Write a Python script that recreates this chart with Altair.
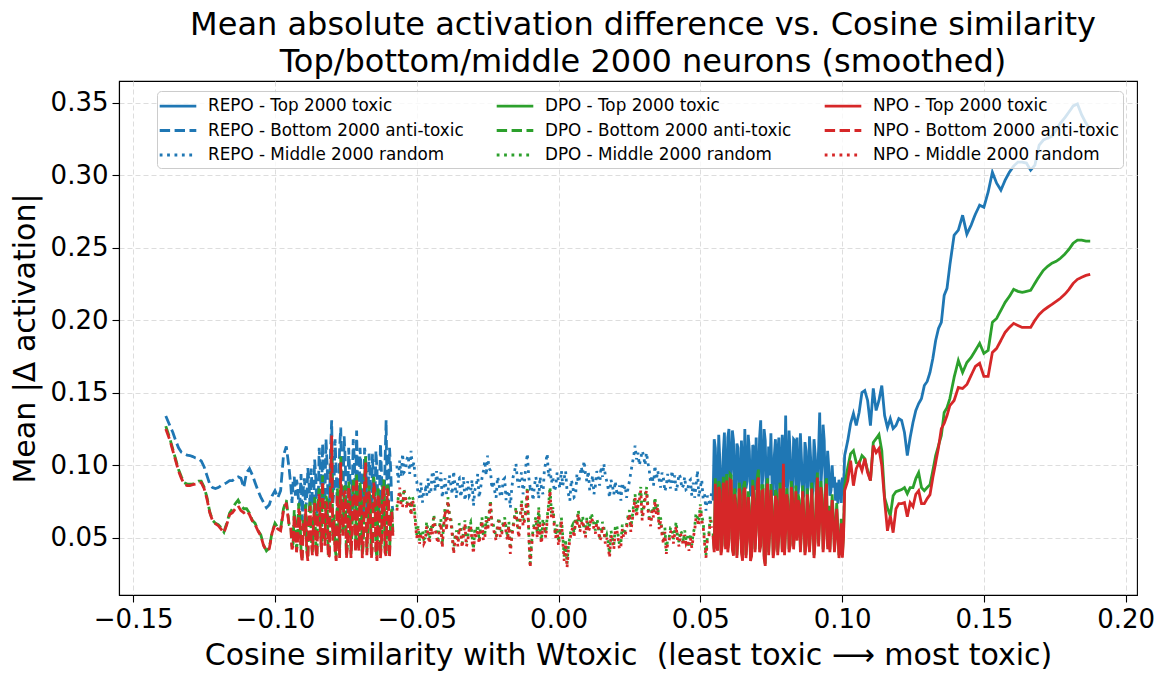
import altair as alt
import pandas as pd

# ---- series definitions -------------------------------------------------
MODELS = ["REPO", "DPO", "NPO"]
MODEL_COLORS = {"REPO": "#1f77b4", "DPO": "#2ca02c", "NPO": "#d62728"}
GROUPS = ["Top 2000 toxic", "Bottom 2000 anti-toxic", "Middle 2000 random"]
LINE_W = 2.8
GROUP_DASH = {
    "Top 2000 toxic": [10, 0],
    "Bottom 2000 anti-toxic": [10.4, 4.5],
    "Middle 2000 random": [2.8, 4.6],
}

# ---- cosine similarity positions (shared by all three models) ----------
BOTTOM_X = [
    -0.1385, -0.137, -0.136, -0.135, -0.134, -0.133, -0.132, -0.131, -0.130, -0.129,
    -0.128, -0.127, -0.126, -0.125, -0.124, -0.123, -0.122, -0.121, -0.120, -0.119,
    -0.118, -0.117, -0.116, -0.115, -0.114, -0.113, -0.112, -0.111, -0.110, -0.109,
    -0.108, -0.107, -0.106, -0.105, -0.104, -0.103, -0.102, -0.101, -0.100, -0.099,
    -0.098, -0.097, -0.096, -0.095,
    -0.0944, -0.0936, -0.0928, -0.0920, -0.0912, -0.0904, -0.0896, -0.0888, -0.0880, -0.0872,
    -0.0864, -0.0856, -0.0848, -0.0840, -0.0832, -0.0824, -0.0816, -0.0808, -0.0800, -0.0792,
    -0.0784, -0.0776, -0.0768, -0.0760, -0.0752, -0.0744, -0.0736, -0.0728, -0.0720, -0.0712,
    -0.0704, -0.0696, -0.0688, -0.0680, -0.0672, -0.0664, -0.0656, -0.0648, -0.0640, -0.0632,
    -0.0624, -0.0616, -0.0608, -0.0600, -0.0592, -0.0584,
]
# extra samples inside the dense (noisy) stretch of the bottom group
BOTTOM_X_FINE = [
    -0.0940, -0.0932, -0.0924, -0.0916, -0.0908, -0.0900, -0.0892, -0.0884, -0.0876, -0.0868,
    -0.0860, -0.0852, -0.0844, -0.0836, -0.0828, -0.0820, -0.0812, -0.0804, -0.0796, -0.0788,
    -0.0780, -0.0772, -0.0764, -0.0756, -0.0748, -0.0740, -0.0732, -0.0724, -0.0716, -0.0708,
    -0.0700, -0.0692, -0.0684, -0.0676, -0.0668, -0.0660, -0.0652, -0.0644, -0.0636, -0.0628,
    -0.0620, -0.0612, -0.0604, -0.0596, -0.0588,
]
MIDDLE_X = [
    -0.057, -0.056, -0.055, -0.054, -0.053, -0.052, -0.051, -0.050, -0.049, -0.048,
    -0.047, -0.046, -0.045, -0.044, -0.043, -0.042, -0.041, -0.040, -0.039, -0.038,
    -0.037, -0.036, -0.035, -0.034, -0.033, -0.032, -0.031, -0.030, -0.029, -0.028,
    -0.027, -0.026, -0.025, -0.024, -0.023, -0.022, -0.021, -0.020, -0.019, -0.018,
    -0.017, -0.016, -0.015, -0.014, -0.013, -0.012, -0.011, -0.010, -0.009, -0.008,
    -0.007, -0.006, -0.005, -0.004, -0.003, -0.002, -0.001, 0.000, 0.001, 0.002,
    0.003, 0.004, 0.005, 0.006, 0.007, 0.008, 0.009, 0.010, 0.011, 0.012,
    0.013, 0.014, 0.015, 0.016, 0.017, 0.018, 0.019, 0.020, 0.021, 0.022,
    0.023, 0.024, 0.025, 0.026, 0.027, 0.028, 0.029, 0.030, 0.031, 0.032,
    0.033, 0.034, 0.035, 0.036, 0.037, 0.038, 0.039, 0.040, 0.041, 0.042,
    0.043, 0.044, 0.045, 0.046, 0.047, 0.048, 0.049, 0.050, 0.051, 0.052,
    0.053, 0.054,
]
MIDDLE_X_FINE = [
    -0.0565, -0.0555, -0.0545, -0.0535, -0.0525, -0.0515, -0.0505, -0.0495, -0.0485, -0.0475,
    -0.0465, -0.0455, -0.0445, -0.0435, -0.0425, -0.0415, -0.0405, -0.0395, -0.0385, -0.0375,
    -0.0365, -0.0355, -0.0345, -0.0335, -0.0325, -0.0315, -0.0305, -0.0295, -0.0285, -0.0275,
    -0.0265, -0.0255, -0.0245, -0.0235, -0.0225, -0.0215, -0.0205, -0.0195, -0.0185, -0.0175,
    -0.0165, -0.0155, -0.0145, -0.0135, -0.0125, -0.0115, -0.0105, -0.0095, -0.0085, -0.0075,
    -0.0065, -0.0055, -0.0045, -0.0035, -0.0025, -0.0015, -0.0005, 0.0005, 0.0015, 0.0025,
    0.0035, 0.0045, 0.0055, 0.0065, 0.0075, 0.0085, 0.0095, 0.0105, 0.0115, 0.0125,
    0.0135, 0.0145, 0.0155, 0.0165, 0.0175, 0.0185, 0.0195, 0.0205, 0.0215, 0.0225,
    0.0235, 0.0245, 0.0255, 0.0265, 0.0275, 0.0285, 0.0295, 0.0305, 0.0315, 0.0325,
    0.0335, 0.0345, 0.0355, 0.0365, 0.0375, 0.0385, 0.0395, 0.0405, 0.0415, 0.0425,
    0.0435, 0.0445, 0.0455, 0.0465, 0.0475, 0.0485, 0.0495, 0.0505, 0.0515, 0.0525,
    0.0535,
]
TOP_X = [
    0.0545, 0.0553, 0.0561, 0.0569, 0.0577, 0.0585, 0.0593, 0.0601, 0.0609, 0.0617,
    0.0625, 0.0633, 0.0641, 0.0649, 0.0657, 0.0665, 0.0673, 0.0681, 0.0689, 0.0697,
    0.0705, 0.0713, 0.0721, 0.0729, 0.0737, 0.0745, 0.0753, 0.0761, 0.0769, 0.0777,
    0.0785, 0.0793, 0.0801, 0.0809, 0.0817, 0.0825, 0.0833, 0.0841, 0.0849, 0.0857,
    0.0865, 0.0873, 0.0881, 0.0889, 0.0897, 0.0905, 0.0913, 0.0921, 0.0929, 0.0937,
    0.0945, 0.0953, 0.0961, 0.0969, 0.0977, 0.0985, 0.0993, 0.1001, 0.1009,
    0.102, 0.103, 0.104, 0.105, 0.106, 0.107, 0.108, 0.109, 0.110, 0.111,
    0.112, 0.113, 0.114, 0.115, 0.116, 0.117, 0.118, 0.119, 0.120, 0.121,
    0.122, 0.123, 0.124, 0.125, 0.126, 0.127, 0.128, 0.129, 0.130, 0.131,
    0.132, 0.133, 0.134, 0.135, 0.136, 0.137, 0.138,
    0.1395, 0.141, 0.1425, 0.144, 0.1455, 0.147, 0.1485, 0.150, 0.1515, 0.153,
    0.1545, 0.156, 0.1575, 0.159, 0.1605, 0.162, 0.1635, 0.165, 0.1665, 0.168,
    0.1695, 0.171, 0.1725, 0.174, 0.1755, 0.177, 0.1785, 0.180, 0.1815, 0.183,
    0.1845, 0.186, 0.1875,
]
TOP_X_FINE = [
    0.0549, 0.0557, 0.0565, 0.0573, 0.0581, 0.0589, 0.0597, 0.0605, 0.0613, 0.0621,
    0.0629, 0.0637, 0.0645, 0.0653, 0.0661, 0.0669, 0.0677, 0.0685, 0.0693, 0.0701,
    0.0709, 0.0717, 0.0725, 0.0733, 0.0741, 0.0749, 0.0757, 0.0765, 0.0773, 0.0781,
    0.0789, 0.0797, 0.0805, 0.0813, 0.0821, 0.0829, 0.0837, 0.0845, 0.0853, 0.0861,
    0.0869, 0.0877, 0.0885, 0.0893, 0.0901, 0.0909, 0.0917, 0.0925, 0.0933, 0.0941,
    0.0949, 0.0957, 0.0965, 0.0973, 0.0981, 0.0989, 0.0997, 0.1005,
]

# ---- smoothed mean |delta activation| per model and neuron group -------
REPO_BOTTOM = [
    0.134, 0.127, 0.1226, 0.117, 0.112, 0.109, 0.108, 0.107, 0.1067, 0.106,
    0.105, 0.1045, 0.103, 0.099, 0.093, 0.087, 0.0846, 0.0839, 0.0846, 0.086,
    0.087, 0.088, 0.0894, 0.0894, 0.091, 0.092, 0.091, 0.0846, 0.095, 0.0977,
    0.0935, 0.088, 0.0825, 0.078, 0.0742, 0.0707, 0.0728, 0.079, 0.0825, 0.0776,
    0.0825, 0.1067, 0.113, 0.0977,
    0.086, 0.089, 0.079, 0.086, 0.0756, 0.062, 0.091, 0.0756, 0.088, 0.0977,
    0.072, 0.091, 0.0687, 0.096, 0.115, 0.0756, 0.0998, 0.072, 0.131, 0.0825,
    0.096, 0.0673, 0.126, 0.079, 0.103, 0.0687, 0.093, 0.0756, 0.1046, 0.124,
    0.072, 0.096, 0.065, 0.106, 0.0756, 0.089, 0.108, 0.0673, 0.096, 0.072,
    0.093, 0.062, 0.131, 0.079, 0.098, 0.0687,
]
REPO_BOTTOM_FINE = [
    0.074, 0.092, 0.090, 0.072, 0.094, 0.084, 0.070, 0.098, 0.070, 0.076,
    0.104, 0.066, 0.112, 0.074, 0.070, 0.118, 0.070, 0.110, 0.074, 0.118,
    0.070, 0.112, 0.072, 0.120, 0.070, 0.112, 0.068, 0.118, 0.070, 0.080,
    0.112, 0.068, 0.112, 0.070, 0.108, 0.070, 0.078, 0.110, 0.066, 0.115,
    0.070, 0.100, 0.068, 0.112, 0.074,
]
DPO_BOTTOM = [
    0.127, 0.118, 0.111, 0.104, 0.097, 0.092, 0.088, 0.087, 0.087, 0.087,
    0.088, 0.089, 0.089, 0.085, 0.078, 0.068, 0.062, 0.060, 0.059, 0.057,
    0.054, 0.060, 0.067, 0.070, 0.0735, 0.076, 0.072, 0.070, 0.070, 0.067,
    0.062, 0.060, 0.055, 0.052, 0.045, 0.041, 0.043, 0.054, 0.060, 0.057,
    0.056, 0.070, 0.076, 0.059,
    0.059, 0.046, 0.062, 0.049, 0.066, 0.036, 0.055, 0.043, 0.068, 0.050,
    0.066, 0.044, 0.076, 0.057, 0.093, 0.047, 0.075, 0.040, 0.112, 0.066,
    0.037, 0.072, 0.106, 0.054, 0.086, 0.046, 0.079, 0.057, 0.083, 0.094,
    0.043, 0.079, 0.050, 0.106, 0.060, 0.075, 0.046, 0.086, 0.036, 0.079,
    0.050, 0.090, 0.039, 0.083, 0.064, 0.054,
]
DPO_BOTTOM_FINE = [
    0.044, 0.069, 0.042, 0.074, 0.042, 0.063, 0.073, 0.036, 0.076, 0.040,
    0.078, 0.038, 0.084, 0.042, 0.055, 0.079, 0.038, 0.088, 0.051, 0.042,
    0.084, 0.038, 0.063, 0.084, 0.038, 0.089, 0.038, 0.090, 0.042, 0.053,
    0.088, 0.038, 0.092, 0.040, 0.086, 0.038, 0.092, 0.042, 0.084, 0.038,
    0.088, 0.042, 0.088, 0.038, 0.071,
]
NPO_BOTTOM = [
    0.125, 0.117, 0.110, 0.103, 0.096, 0.091, 0.087, 0.086, 0.086, 0.0866,
    0.087, 0.088, 0.088, 0.084, 0.077, 0.0673, 0.0617, 0.0597, 0.0583, 0.056,
    0.0535, 0.059, 0.066, 0.0673, 0.070, 0.072, 0.0687, 0.0673, 0.0687, 0.066,
    0.0617, 0.059, 0.0548, 0.0514, 0.0445, 0.041, 0.0424, 0.0535, 0.059, 0.056,
    0.0548, 0.0687, 0.0742, 0.0583,
    0.057, 0.0445, 0.058, 0.048, 0.062, 0.033, 0.0514, 0.041, 0.065, 0.048,
    0.062, 0.042, 0.072, 0.055, 0.089, 0.0445, 0.072, 0.0376, 0.1205, 0.062,
    0.034, 0.0687, 0.102, 0.0514, 0.0825, 0.0445, 0.0756, 0.055, 0.079, 0.091,
    0.041, 0.0756, 0.048, 0.102, 0.058, 0.072, 0.0445, 0.0825, 0.034, 0.0756,
    0.048, 0.086, 0.0376, 0.079, 0.062, 0.0514,
]
NPO_BOTTOM_FINE = [
    0.042, 0.066, 0.040, 0.070, 0.040, 0.060, 0.070, 0.034, 0.072, 0.038,
    0.074, 0.036, 0.080, 0.040, 0.052, 0.075, 0.036, 0.084, 0.048, 0.040,
    0.080, 0.036, 0.060, 0.080, 0.036, 0.085, 0.036, 0.086, 0.040, 0.050,
    0.084, 0.036, 0.088, 0.038, 0.082, 0.036, 0.088, 0.040, 0.080, 0.036,
    0.084, 0.040, 0.084, 0.036, 0.068,
]

REPO_MIDDLE = [
    0.0998, 0.1032, 0.108, 0.0963, 0.1067, 0.110, 0.102, 0.089, 0.0776, 0.0742,
    0.0839, 0.091, 0.0825, 0.093, 0.096, 0.086, 0.0776, 0.091, 0.081, 0.087,
    0.096, 0.0776, 0.091, 0.084, 0.0756, 0.089, 0.081, 0.072, 0.086, 0.0776,
    0.091, 0.103, 0.1067, 0.0963, 0.089, 0.0776, 0.088, 0.080, 0.091, 0.0825,
    0.0707, 0.092, 0.101, 0.0846, 0.095, 0.089, 0.108, 0.0846, 0.0756, 0.092,
    0.077, 0.084, 0.0963, 0.108, 0.0977, 0.092, 0.085, 0.089, 0.0963, 0.091,
    0.0825, 0.0756, 0.086, 0.079, 0.088, 0.099, 0.103, 0.089, 0.0825, 0.093,
    0.086, 0.0915, 0.099, 0.101, 0.089, 0.0776, 0.086, 0.089, 0.079, 0.0756,
    0.0825, 0.0776, 0.089, 0.101, 0.1136, 0.1087, 0.1046, 0.1067, 0.1087, 0.0963,
    0.093, 0.0998, 0.0963, 0.0846, 0.091, 0.086, 0.089, 0.0963, 0.093, 0.087,
    0.0915, 0.086, 0.0825, 0.089, 0.079, 0.0776, 0.0963, 0.0846, 0.077, 0.0687,
    0.0756, 0.0825,
]
REPO_MIDDLE_FINE = [
    0.088, 0.092, 0.095, 0.104, 0.094, 0.098, 0.090, 0.080, 0.088, 0.082,
    0.079, 0.080, 0.096, 0.082, 0.086, 0.095, 0.084, 0.080, 0.093, 0.080,
    0.086, 0.090, 0.078, 0.092, 0.082, 0.079, 0.090, 0.083, 0.094, 0.084,
    0.096, 0.093, 0.098, 0.084, 0.082, 0.092, 0.078, 0.090, 0.076, 0.082,
    0.084, 0.096, 0.090, 0.092, 0.080, 0.100, 0.092, 0.086, 0.086, 0.086,
    0.092, 0.080, 0.102, 0.092, 0.088, 0.082, 0.095, 0.084, 0.086, 0.096,
    0.080, 0.090, 0.078, 0.094, 0.092, 0.094, 0.094, 0.096, 0.085, 0.080,
    0.096, 0.086, 0.092, 0.093, 0.084, 0.090, 0.080, 0.082, 0.086, 0.088,
    0.086, 0.084, 0.095, 0.106, 0.104, 0.100, 0.110, 0.100, 0.102, 0.088,
    0.086, 0.090, 0.090, 0.095, 0.082, 0.094, 0.084, 0.088, 0.082, 0.094,
    0.084, 0.092, 0.082, 0.090, 0.088, 0.086, 0.078, 0.090, 0.080, 0.079,
    0.072,
]
DPO_MIDDLE = [
    0.071, 0.081, 0.073, 0.077, 0.078, 0.068, 0.075, 0.052, 0.048, 0.055,
    0.050, 0.054, 0.059, 0.066, 0.053, 0.058, 0.045, 0.071, 0.078, 0.064,
    0.041, 0.055, 0.060, 0.046, 0.062, 0.050, 0.061, 0.042, 0.053, 0.048,
    0.064, 0.052, 0.057, 0.076, 0.059, 0.050, 0.064, 0.055, 0.064, 0.050,
    0.042, 0.059, 0.071, 0.052, 0.076, 0.064, 0.085, 0.032, 0.055, 0.064,
    0.071, 0.048, 0.059, 0.064, 0.085, 0.071, 0.052, 0.047, 0.064, 0.037,
    0.032, 0.050, 0.059, 0.064, 0.069, 0.061, 0.057, 0.064, 0.059, 0.064,
    0.055, 0.059, 0.052, 0.057, 0.052, 0.039, 0.050, 0.057, 0.052, 0.047,
    0.052, 0.059, 0.069, 0.064, 0.080, 0.075, 0.085, 0.071, 0.085, 0.064,
    0.071, 0.078, 0.073, 0.064, 0.048, 0.041, 0.050, 0.057, 0.055, 0.050,
    0.055, 0.047, 0.048, 0.043, 0.045, 0.057, 0.064, 0.073, 0.061, 0.038,
    0.052, 0.059,
]
DPO_MIDDLE_FINE = [
    0.078, 0.075, 0.084, 0.073, 0.077, 0.078, 0.063, 0.058, 0.055, 0.049,
    0.061, 0.049, 0.055, 0.059, 0.049, 0.063, 0.061, 0.058, 0.067, 0.055,
    0.051, 0.047, 0.057, 0.055, 0.047, 0.059, 0.051, 0.057, 0.059, 0.057,
    0.051, 0.065, 0.067, 0.061, 0.055, 0.059, 0.053, 0.061, 0.057, 0.061,
    0.053, 0.065, 0.061, 0.065, 0.061, 0.071, 0.055, 0.047, 0.061, 0.053,
    0.055, 0.063, 0.053, 0.073, 0.067, 0.061, 0.059, 0.055, 0.051, 0.049,
    0.045, 0.057, 0.053, 0.061, 0.057, 0.065, 0.053, 0.057, 0.067, 0.059,
    0.063, 0.051, 0.061, 0.049, 0.047, 0.055, 0.045, 0.059, 0.045, 0.059,
    0.055, 0.065, 0.057, 0.073, 0.067, 0.079, 0.065, 0.079, 0.073, 0.061,
    0.067, 0.069, 0.059, 0.055, 0.057, 0.049, 0.057, 0.049, 0.061, 0.047,
    0.053, 0.055, 0.051, 0.053, 0.053, 0.067, 0.061, 0.065, 0.049, 0.051,
    0.065,
]
NPO_MIDDLE = [
    0.0687, 0.0846, 0.0707, 0.079, 0.0756, 0.0652, 0.072, 0.050, 0.0459, 0.0528,
    0.048, 0.0514, 0.0569, 0.0638, 0.050, 0.0548, 0.0431, 0.0687, 0.0756, 0.0617,
    0.0389, 0.0528, 0.0569, 0.0431, 0.0597, 0.048, 0.0583, 0.0389, 0.050, 0.0459,
    0.0617, 0.050, 0.0548, 0.0735, 0.0569, 0.048, 0.0617, 0.0528, 0.0617, 0.048,
    0.0389, 0.0569, 0.0687, 0.050, 0.0735, 0.0617, 0.0825, 0.0293, 0.0528, 0.0617,
    0.0687, 0.0459, 0.0569, 0.0617, 0.0825, 0.0687, 0.050, 0.0445, 0.0617, 0.0341,
    0.0293, 0.048, 0.0569, 0.0617, 0.0666, 0.0583, 0.0548, 0.0617, 0.0569, 0.0617,
    0.0528, 0.0569, 0.050, 0.0548, 0.050, 0.0362, 0.048, 0.0548, 0.050, 0.0445,
    0.050, 0.0569, 0.0666, 0.0617, 0.0776, 0.072, 0.0825, 0.0687, 0.0825, 0.0617,
    0.0687, 0.0756, 0.0707, 0.0617, 0.0459, 0.0389, 0.048, 0.0548, 0.0528, 0.048,
    0.0528, 0.0445, 0.0459, 0.041, 0.0431, 0.0548, 0.0617, 0.0707, 0.0583, 0.0362,
    0.050, 0.0569,
]
NPO_MIDDLE_FINE = [
    0.076, 0.072, 0.082, 0.070, 0.074, 0.076, 0.060, 0.056, 0.052, 0.046,
    0.058, 0.046, 0.052, 0.056, 0.046, 0.060, 0.058, 0.055, 0.064, 0.052,
    0.048, 0.044, 0.054, 0.052, 0.044, 0.056, 0.048, 0.054, 0.056, 0.054,
    0.048, 0.062, 0.064, 0.058, 0.052, 0.056, 0.050, 0.058, 0.054, 0.058,
    0.050, 0.062, 0.058, 0.062, 0.058, 0.068, 0.052, 0.044, 0.058, 0.050,
    0.052, 0.060, 0.050, 0.070, 0.064, 0.058, 0.056, 0.052, 0.048, 0.046,
    0.042, 0.054, 0.050, 0.058, 0.054, 0.062, 0.050, 0.054, 0.064, 0.056,
    0.060, 0.048, 0.058, 0.046, 0.044, 0.052, 0.042, 0.056, 0.042, 0.056,
    0.052, 0.062, 0.054, 0.070, 0.064, 0.076, 0.062, 0.076, 0.070, 0.058,
    0.064, 0.066, 0.056, 0.052, 0.054, 0.046, 0.054, 0.046, 0.058, 0.044,
    0.050, 0.052, 0.048, 0.050, 0.050, 0.064, 0.058, 0.062, 0.046, 0.048,
    0.062,
]

REPO_TOP = [
    0.0756, 0.112, 0.079, 0.103, 0.0756, 0.1226, 0.086, 0.125, 0.0963, 0.117,
    0.0825, 0.112, 0.0756, 0.0998, 0.125, 0.089, 0.110, 0.079, 0.112, 0.1191,
    0.086, 0.131, 0.093, 0.117, 0.0735, 0.093, 0.086, 0.1067, 0.079, 0.1191,
    0.0963, 0.110, 0.1343, 0.089, 0.108, 0.0825, 0.117, 0.1191, 0.089, 0.103,
    0.079, 0.110, 0.086, 0.105, 0.0825, 0.108, 0.093, 0.1364, 0.0998, 0.117,
    0.089, 0.0984, 0.0825, 0.0846, 0.0756, 0.0735, 0.0825, 0.0915, 0.1067,
    0.117, 0.1288, 0.1357, 0.1274, 0.1364, 0.1502, 0.1516, 0.1447, 0.1274, 0.153,
    0.1378, 0.1447, 0.155, 0.1343, 0.126, 0.1322, 0.1253, 0.1274, 0.1322, 0.1309,
    0.1226, 0.1067, 0.1191, 0.1295, 0.1378, 0.1426, 0.146, 0.155, 0.1578, 0.164,
    0.1737, 0.1861, 0.1944, 0.1986, 0.2172, 0.2221, 0.238,
    0.2587, 0.2622, 0.2725, 0.2594, 0.2656, 0.2732, 0.2794, 0.278, 0.2884, 0.3022,
    0.2946, 0.2898, 0.2967, 0.3022, 0.3064, 0.3092, 0.3092, 0.3085, 0.3036, 0.3071,
    0.3209, 0.3244, 0.3257, 0.3271, 0.3313, 0.3361, 0.3396, 0.3437, 0.3479, 0.3493,
    0.3417, 0.3361, 0.3313,
]
REPO_TOP_FINE = [
    0.118, 0.083, 0.121, 0.080, 0.108, 0.084, 0.119, 0.082, 0.124, 0.078,
    0.115, 0.081, 0.117, 0.079, 0.084, 0.121, 0.080, 0.114, 0.083, 0.078,
    0.119, 0.084, 0.125, 0.081, 0.113, 0.122, 0.079, 0.118, 0.108, 0.078,
    0.121, 0.085, 0.079, 0.124, 0.076, 0.118, 0.084, 0.080, 0.122, 0.077,
    0.116, 0.080, 0.120, 0.078, 0.118, 0.079, 0.110, 0.084, 0.128, 0.081,
    0.110, 0.079, 0.100, 0.092, 0.088, 0.090, 0.074, 0.080,
]
DPO_TOP = [
    0.053, 0.091, 0.043, 0.086, 0.046, 0.080, 0.094, 0.050, 0.093, 0.039,
    0.076, 0.053, 0.083, 0.036, 0.089, 0.050, 0.072, 0.039, 0.080, 0.057,
    0.097, 0.046, 0.086, 0.032, 0.091, 0.057, 0.072, 0.044, 0.080, 0.053,
    0.068, 0.099, 0.057, 0.076, 0.046, 0.081, 0.061, 0.050, 0.076, 0.057,
    0.068, 0.046, 0.072, 0.057, 0.065, 0.050, 0.095, 0.065, 0.080, 0.054,
    0.091, 0.072, 0.061, 0.065, 0.054, 0.057, 0.044, 0.038, 0.086,
    0.0984, 0.108, 0.1101, 0.1018, 0.1011, 0.1067, 0.1046, 0.0963, 0.0894, 0.1157,
    0.1184, 0.1212, 0.1101, 0.0776, 0.0707, 0.0652, 0.079, 0.0818, 0.0825, 0.0832,
    0.0846, 0.0804, 0.0846, 0.0846, 0.0908, 0.0949, 0.0846, 0.0825, 0.0846, 0.0866,
    0.0963, 0.1067, 0.1136, 0.1205, 0.1364, 0.1398, 0.146,
    0.1606, 0.1723, 0.164, 0.1709, 0.1744, 0.1792, 0.1841, 0.1772, 0.1792, 0.1986,
    0.2013, 0.2069, 0.2124, 0.2165, 0.2214, 0.220, 0.2193, 0.220, 0.2207, 0.2255,
    0.2303, 0.2345, 0.2373, 0.2394, 0.2407, 0.2428, 0.2456, 0.249, 0.2532, 0.2553,
    0.2553, 0.2546, 0.2546,
]
DPO_TOP_FINE = [
    0.042, 0.048, 0.089, 0.040, 0.092, 0.044, 0.043, 0.094, 0.044, 0.084,
    0.038, 0.088, 0.042, 0.086, 0.038, 0.082, 0.036, 0.090, 0.042, 0.092,
    0.042, 0.086, 0.038, 0.084, 0.040, 0.087, 0.038, 0.083, 0.040, 0.088,
    0.042, 0.040, 0.084, 0.042, 0.089, 0.044, 0.086, 0.080, 0.042, 0.086,
    0.040, 0.084, 0.042, 0.088, 0.038, 0.082, 0.046, 0.089, 0.042, 0.084,
    0.044, 0.042, 0.080, 0.042, 0.074, 0.038, 0.063, 0.053,
]
NPO_TOP = [
    0.0514, 0.0873, 0.041, 0.0825, 0.0445, 0.0756, 0.0894, 0.048, 0.0894, 0.0376,
    0.0721, 0.0514, 0.079, 0.0341, 0.0846, 0.048, 0.0687, 0.0376, 0.0756, 0.0548,
    0.0915, 0.0445, 0.0825, 0.0306, 0.0873, 0.0548, 0.0687, 0.0424, 0.0756, 0.0514,
    0.0652, 0.1011, 0.0548, 0.0721, 0.0445, 0.0776, 0.0583, 0.048, 0.0721, 0.0548,
    0.0652, 0.0445, 0.0687, 0.0548, 0.0617, 0.048, 0.0915, 0.0617, 0.0756, 0.0514,
    0.0873, 0.0687, 0.0583, 0.0617, 0.0514, 0.0548, 0.0424, 0.0362, 0.0825,
    0.0894, 0.1032, 0.0859, 0.0977, 0.1018, 0.0963, 0.1046, 0.0949, 0.0894, 0.1136,
    0.1087, 0.1115, 0.0998, 0.0756, 0.0548, 0.0652, 0.0535, 0.070, 0.0735, 0.0735,
    0.0742, 0.0645, 0.0742, 0.0714, 0.080, 0.0825, 0.0735, 0.0735, 0.077, 0.0797,
    0.0915, 0.1018, 0.1122, 0.1253, 0.1288, 0.1343, 0.1412,
    0.1447, 0.1537, 0.153, 0.1557, 0.162, 0.1682, 0.1703, 0.1613, 0.1613, 0.1779,
    0.1806, 0.1861, 0.1917, 0.1951, 0.1979, 0.1965, 0.1951, 0.1951, 0.1951, 0.200,
    0.2041, 0.2069, 0.209, 0.211, 0.2131, 0.2152, 0.2179, 0.2214, 0.2255, 0.2283,
    0.2297, 0.231, 0.2317,
]
NPO_TOP_FINE = [
    0.040, 0.046, 0.085, 0.038, 0.088, 0.042, 0.040, 0.090, 0.042, 0.080,
    0.036, 0.084, 0.040, 0.082, 0.036, 0.078, 0.034, 0.086, 0.040, 0.088,
    0.040, 0.082, 0.036, 0.080, 0.038, 0.083, 0.036, 0.079, 0.038, 0.084,
    0.040, 0.038, 0.080, 0.040, 0.085, 0.042, 0.082, 0.076, 0.040, 0.082,
    0.038, 0.080, 0.040, 0.084, 0.036, 0.078, 0.044, 0.085, 0.040, 0.080,
    0.042, 0.040, 0.076, 0.040, 0.070, 0.036, 0.060, 0.050,
]

SERIES = {
    "REPO": {
        "Top 2000 toxic": [(TOP_X, REPO_TOP), (TOP_X_FINE, REPO_TOP_FINE)],
        "Bottom 2000 anti-toxic": [(BOTTOM_X, REPO_BOTTOM), (BOTTOM_X_FINE, REPO_BOTTOM_FINE)],
        "Middle 2000 random": [(MIDDLE_X, REPO_MIDDLE), (MIDDLE_X_FINE, REPO_MIDDLE_FINE)],
    },
    "DPO": {
        "Top 2000 toxic": [(TOP_X, DPO_TOP), (TOP_X_FINE, DPO_TOP_FINE)],
        "Bottom 2000 anti-toxic": [(BOTTOM_X, DPO_BOTTOM), (BOTTOM_X_FINE, DPO_BOTTOM_FINE)],
        "Middle 2000 random": [(MIDDLE_X, DPO_MIDDLE), (MIDDLE_X_FINE, DPO_MIDDLE_FINE)],
    },
    "NPO": {
        "Top 2000 toxic": [(TOP_X, NPO_TOP), (TOP_X_FINE, NPO_TOP_FINE)],
        "Bottom 2000 anti-toxic": [(BOTTOM_X, NPO_BOTTOM), (BOTTOM_X_FINE, NPO_BOTTOM_FINE)],
        "Middle 2000 random": [(MIDDLE_X, NPO_MIDDLE), (MIDDLE_X_FINE, NPO_MIDDLE_FINE)],
    },
}

rows = []
for model in MODELS:
    for group in GROUPS:
        for xs, ys in SERIES[model][group]:
            if len(xs) != len(ys):
                raise ValueError(f"{model} / {group}: {len(xs)} x vs {len(ys)} y")
            for xv, yv in zip(xs, ys):
                rows.append({"model": model, "series": f"{model} - {group}",
                             "cos": xv, "delta": yv})
df = pd.DataFrame(rows)

# legend entries are laid out column by column: one column per model
legend_order = [f"{m} - {g}" for m in MODELS for g in GROUPS]
legend_colors = [MODEL_COLORS[m] for m in MODELS for g in GROUPS]
legend_dashes = [GROUP_DASH[g] for m in MODELS for g in GROUPS]

FONT = "DejaVu Sans"

# a long horizontal stroke as the legend key (path is scaled by sqrt(size)/2)
legend = alt.Legend(
    title=None, orient="none", legendX=38, legendY=10, columns=3,
    symbolType="M-2,0L2,0", symbolSize=335, symbolOffset=6,
    symbolStrokeWidth=LINE_W, symbolFillColor="transparent",
    labelFont=FONT, labelFontSize=16.8, labelColor="black", labelLimit=400,
    labelOffset=19, padding=4, rowPadding=4.5, columnPadding=27, gridAlign="each",
    fillColor="rgba(255,255,255,0.8)", strokeColor="#cccccc", cornerRadius=4,
    zindex=1,
)

x_enc = alt.X(
    "cos:Q",
    scale=alt.Scale(domain=[-0.155, 0.204], nice=False, zero=False),
    axis=alt.Axis(values=[-0.15, -0.10, -0.05, 0.0, 0.05, 0.10, 0.15, 0.20],
                  format=".2f",
                  title="Cosine similarity with Wtoxic\u00a0 (least toxic \u27f6 most toxic)",
                  titlePadding=8, labelPadding=4),
)
y_enc = alt.Y(
    "delta:Q",
    scale=alt.Scale(domain=[0.0105, 0.3651], nice=False, zero=False),
    axis=alt.Axis(values=[0.05, 0.10, 0.15, 0.20, 0.25, 0.30, 0.35],
                  format=".2f", title="Mean |\u0394 activation|",
                  titlePadding=10, labelPadding=4),
)
color_enc = alt.Color("series:N", scale=alt.Scale(domain=legend_order, range=legend_colors),
                      legend=legend)
dash_enc = alt.StrokeDash("series:N", scale=alt.Scale(domain=legend_order, range=legend_dashes),
                          legend=legend)

layers = [
    alt.Chart(df)
    .transform_filter(alt.datum.model == m)
    .mark_line(strokeWidth=LINE_W)
    .encode(x=x_enc, y=y_enc, color=color_enc, strokeDash=dash_enc,
            order=alt.Order("cos:Q"))
    for m in MODELS
]

chart = (
    alt.layer(*layers)
    .properties(
        width=1018,
        height=514,
        padding={"left": 119, "top": 81, "right": 22, "bottom": 78},
        autosize=alt.AutoSizeParams(type="none"),
        background="white",
        title=alt.Title(
            text=["Mean absolute activation difference vs. Cosine similarity",
                  "Top/bottom/middle 2000 neurons (smoothed)"],
            font=FONT, fontSize=32, fontWeight="normal", color="black",
            anchor="middle", lineHeight=37, offset=2, dx=15,
        ),
    )
    .configure_view(stroke="black", strokeWidth=1.1)
    .configure_axis(
        labelFont=FONT, titleFont=FONT, labelFontSize=26, titleFontSize=30,
        titleFontWeight="normal", labelColor="black", titleColor="black",
        domainColor="black", domainWidth=1.1, tickColor="black", tickWidth=1.1,
        tickSize=7, grid=True, gridColor="#dddddd", gridDash=[5, 3], gridWidth=1,
    )
)

chart.save("out.html", embed_options={"renderer": "svg", "actions": False})
